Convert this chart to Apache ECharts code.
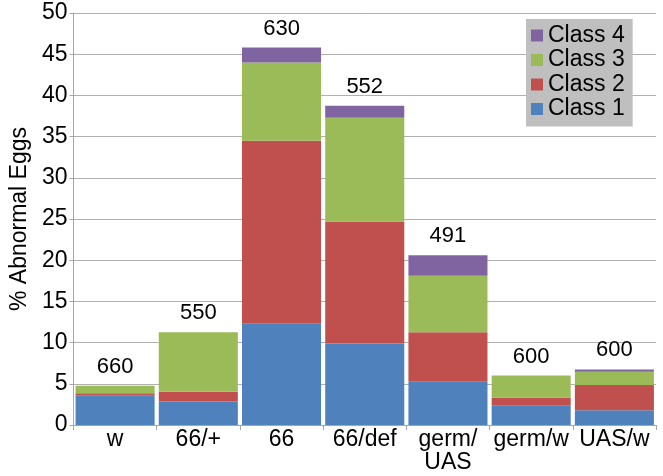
<!DOCTYPE html>
<html>
<head>
<meta charset="utf-8">
<script src="https://cdn.jsdelivr.net/npm/echarts@6/dist/echarts.min.js"></script>
<style>
html,body{margin:0;padding:0;background:#fff;}
#c{width:663px;height:476px;}
</style>
</head>
<body>
<div id="c"></div>
<script>
const categories = ['w', '66/+', '66', '66/def', 'germ/\nUAS', 'germ/w', 'UAS/w'];
const class1 = [3.6, 2.85, 12.3, 9.9, 5.25, 2.35, 1.8];
const class2 = [0.25, 1.2, 22.2, 14.8, 6.0, 0.95, 3.05];
const class3 = [0.9, 7.2, 9.5, 12.6, 6.85, 2.7, 1.6];
const class4 = [0, 0, 1.8, 1.45, 2.5, 0, 0.3];
const counts = ['660', '550', '630', '552', '491', '600', '600'];
const yTicks = [0, 5, 10, 15, 20, 25, 30, 35, 40, 45, 50];

const font = 'Liberation Sans, Arial, sans-serif';
const colors = {c1: '#4f81bd', c2: '#c0504d', c3: '#9bbb59', c4: '#8064a2'};

function barSeries(name, data, color, extra) {
  return Object.assign({
    name: name,
    type: 'bar',
    stack: 'total',
    data: data,
    barCategoryGap: '5%',
    itemStyle: {color: color},
    emphasis: {disabled: true}
  }, extra || {});
}

const chart = echarts.init(document.getElementById('c'), null, {renderer: 'canvas'});
chart.setOption({
  animation: false,
  backgroundColor: '#fff',
  textStyle: {fontFamily: font},
  grid: {left: 73, right: 7, top: 13, bottom: 51},
  legend: {
    orient: 'vertical',
    left: 526,
    top: 19,
    padding: [5, 8, 6, 5],
    backgroundColor: '#bfbfbf',
    itemGap: 1.5,
    itemWidth: 12,
    itemHeight: 12,
    icon: 'rect',
    textStyle: {fontSize: 23, color: '#000', fontFamily: font, padding: [0, 0, 0, 0]},
    data: ['Class 4', 'Class 3', 'Class 2', 'Class 1']
  },
  xAxis: {
    type: 'category',
    data: categories,
    axisLine: {lineStyle: {color: '#a6a6a6', width: 1}},
    axisTick: {show: true, alignWithLabel: false, length: 5, lineStyle: {color: '#a6a6a6'}},
    axisLabel: {fontSize: 23, color: '#000', fontFamily: font, margin: 3, lineHeight: 23, interval: 0}
  },
  yAxis: {
    type: 'value',
    min: yTicks[0],
    max: yTicks[yTicks.length - 1],
    interval: 5,
    name: '% Abnormal Eggs',
    nameLocation: 'middle',
    nameGap: 41,
    nameTextStyle: {fontSize: 23, color: '#000', fontFamily: font},
    axisLine: {show: true, lineStyle: {color: '#a6a6a6'}},
    axisTick: {show: true, length: 4, lineStyle: {color: '#a6a6a6'}},
    axisLabel: {fontSize: 23, color: '#000', fontFamily: font, margin: 6},
    splitLine: {lineStyle: {color: '#b0b0b0', width: 1}}
  },
  series: [
    barSeries('Class 1', class1, colors.c1),
    barSeries('Class 2', class2, colors.c2),
    barSeries('Class 3', class3, colors.c3),
    barSeries('Class 4', class4, colors.c4, {
      label: {
        show: true,
        position: 'top',
        distance: 8,
        fontSize: 22,
        color: '#000',
        fontFamily: font,
        formatter: p => counts[p.dataIndex]
      }
    })
  ]
});
</script>
</body>
</html>
